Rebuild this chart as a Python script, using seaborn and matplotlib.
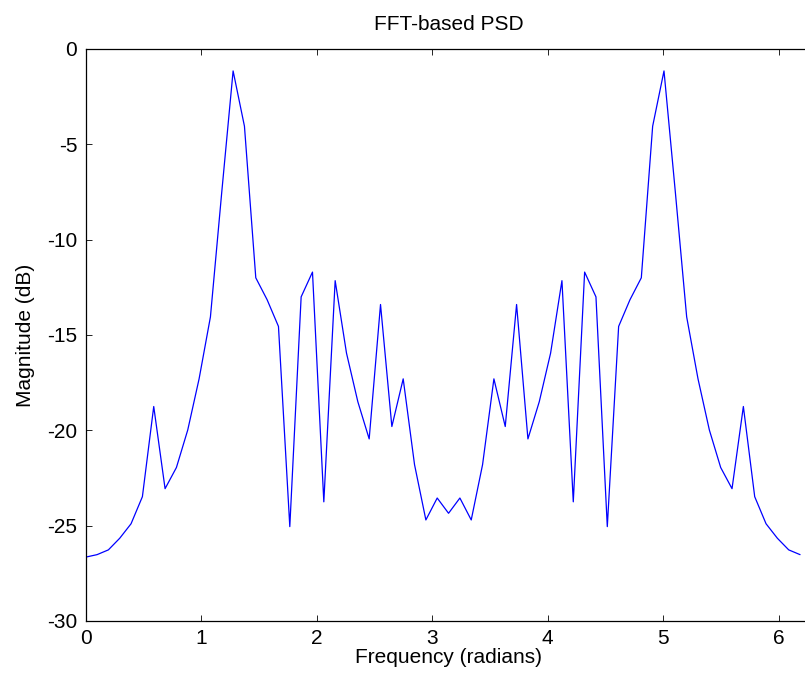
import numpy as np
import pandas as pd
import matplotlib
matplotlib.use("Agg")
import matplotlib.pyplot as plt
import seaborn as sns

# FFT bin index (N = 64 points over 0..2*pi)
n_fft = 64
bin_index = list(range(n_fft))

# Magnitude in dB
magnitude_db = [
    -26.65, -26.52, -26.27, -25.66, -24.90, -23.48, -18.75, -23.06,
    -21.95, -19.98, -17.30, -14.05, -7.50, -1.15, -4.05, -12.00,
    -13.15, -14.55, -25.05, -13.00, -11.70, -23.75, -12.15, -15.95,
    -18.50, -20.45, -13.40, -19.80, -17.30, -21.80, -24.70, -23.55,
    -24.35, -23.55, -24.70, -21.80, -17.30, -19.80, -13.40, -20.45,
    -18.50, -15.95, -12.15, -23.75, -11.70, -13.00, -25.05, -14.55,
    -13.15, -12.00, -4.05, -1.15, -7.50, -14.05, -17.30, -19.98,
    -21.95, -23.06, -18.75, -23.48, -24.90, -25.66, -26.27, -26.52,
]

x_ticks = [0, 1, 2, 3, 4, 5, 6]
y_ticks = [-30, -25, -20, -15, -10, -5, 0]

freq = [k * 2 * np.pi / n_fft for k in bin_index]
df = pd.DataFrame({"freq": freq, "mag": magnitude_db})

sns.set_style("white")
plt.rcParams["font.family"] = ["Liberation Sans", "DejaVu Sans"]
plt.rcParams["axes.unicode_minus"] = False
plt.rcParams["text.color"] = "black"
plt.rcParams["axes.labelcolor"] = "black"
plt.rcParams["xtick.color"] = "black"
plt.rcParams["ytick.color"] = "black"

fig = plt.figure(figsize=(8.05, 6.79), dpi=100)
W, H = 805, 679
left_px, right_px, top_px, bot_px = 85.7, 811.4, 49, 621
ax = fig.add_axes([left_px / W, 1 - bot_px / H,
                   (right_px - left_px) / W, (bot_px - top_px) / H])

sns.lineplot(data=df, x="freq", y="mag", ax=ax, color="#0000ff",
             linewidth=0.9, estimator=None, sort=False)

ax.set_xlim(0, 2 * np.pi)
ax.set_ylim(-30, 0)
ax.set_xticks(x_ticks)
ax.set_yticks(y_ticks)
ax.set_xticklabels([str(t) for t in x_ticks])
ax.set_yticklabels([str(t) for t in y_ticks])

fs = 15
ax.tick_params(direction="in", length=4.3, width=0.6, colors="black",
               labelsize=fs, pad=6, top=True, right=True,
               bottom=True, left=True)
for sp in ax.spines.values():
    sp.set_visible(True)
    sp.set_color("black")
    sp.set_linewidth(0.9)

ax.set_xlabel("Frequency (radians)", fontsize=fs, labelpad=0, color="black")
ax.set_ylabel("Magnitude (dB)", fontsize=fs, labelpad=9, color="black")
ax.set_title("FFT-based PSD", fontsize=fs, pad=14, color="black")
ax.grid(False)

fig.savefig("out.png", dpi=100)
